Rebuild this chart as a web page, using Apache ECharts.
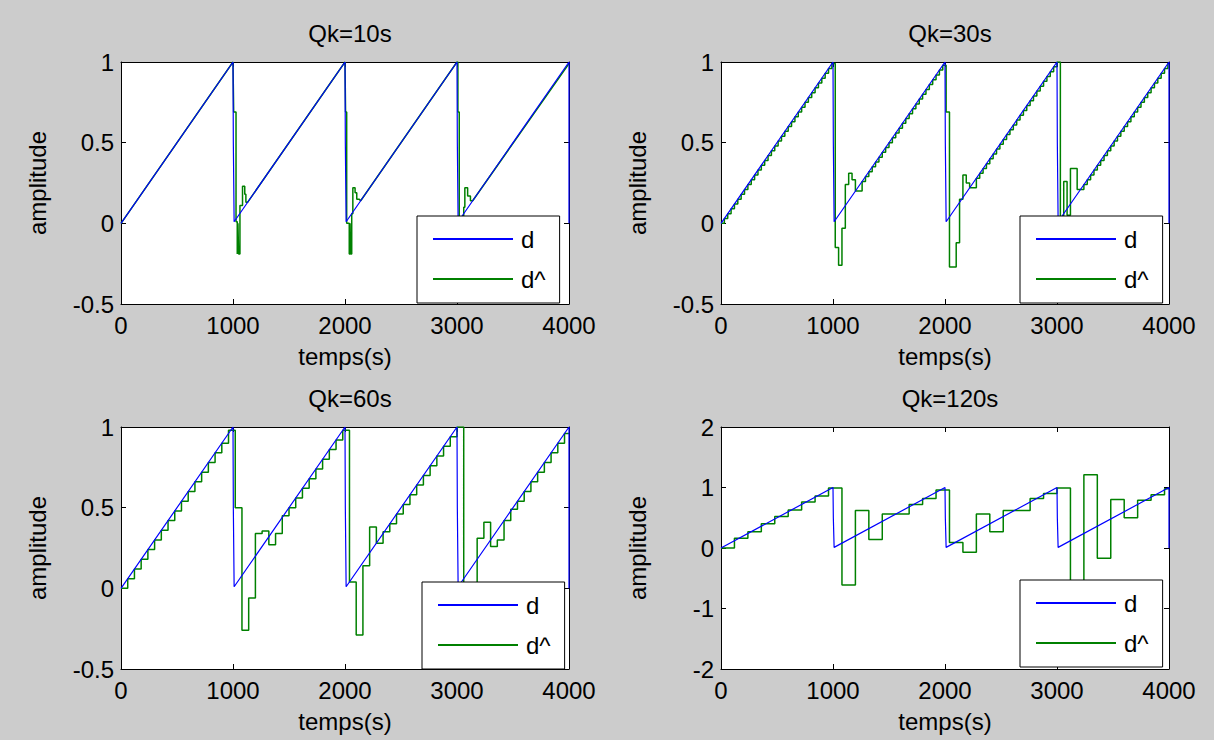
<!DOCTYPE html>
<html><head><meta charset="utf-8">
<script src="https://cdn.jsdelivr.net/npm/echarts@6/dist/echarts.min.js"></script>
<style>html,body{margin:0;padding:0;background:#cccccc;}#c{width:1214px;height:740px;}</style>
</head><body><div id="c"></div>
<script>
// ---- data ----
const titles = ['Qk=10s', 'Qk=30s', 'Qk=60s', 'Qk=120s'];
const seriesNames = ['d', 'd^'];
const xTicks = [0, 1000, 2000, 3000, 4000];
const yMin = [-0.5, -0.5, -0.5, -2];
const yMax = [1, 1, 1, 2];
const yInterval = [0.5, 0.5, 0.5, 1];

// true signal d (vertices of the sawtooth)
const dTime  = [0, 1000, 1003, 1010, 2000, 2003, 2010, 3000, 3003, 3010, 4000, 4000];
const dValue = [0, 1.0, 0.5, 0.01, 1.0, 0.5, 0.01, 1.0, 0.5, 0.01, 1.0, 0];

// estimate, Qk=10s (vertices)
const q10Time = [0, 1000, 1006, 1006, 1027, 1027, 1038, 1038, 1044, 1044, 1050, 1050, 1062, 1062, 1085, 1085, 1105, 1105, 1115, 1115, 1130,
  2000, 2005, 2005, 2015, 2015, 2038, 2038, 2045, 2045, 2050, 2050, 2060, 2060, 2070, 2070, 2090, 2090, 2105, 2105, 2125, 2140,
  3000, 3008, 3008, 3020, 3020, 3035, 3035, 3060, 3060, 3070, 3070, 3095, 3095, 3120, 3120, 3140, 4000];
const q10Value = [0, 1.0, 1.0, 0.69, 0.69, 0.01, 0.01, -0.19, -0.19, 0.0, 0.0, -0.19, -0.19, 0.11, 0.11, 0.23, 0.23, 0.18, 0.18, 0.13, 0.13,
  1.0, 1.0, 0.69, 0.69, 0.0, 0.0, -0.19, -0.19, 0.0, 0.0, -0.19, -0.19, 0.06, 0.06, 0.22, 0.22, 0.19, 0.19, 0.15, 0.15, 0.14,
  1.0, 1.0, 0.69, 0.69, 0.01, 0.01, -0.19, -0.19, 0.10, 0.10, 0.22, 0.22, 0.17, 0.17, 0.14, 0.14, 0.99];

// estimate, Qk=30s (held values, one every 30 s)
const q30Step = 30;
const q30Value = [
  0, 0.03, 0.06, 0.09, 0.12, 0.15, 0.18, 0.21, 0.24, 0.27,
  0.30, 0.33, 0.36, 0.39, 0.42, 0.45, 0.48, 0.51, 0.54, 0.57,
  0.60, 0.63, 0.66, 0.69, 0.72, 0.75, 0.78, 0.81, 0.84, 0.87,
  0.90, 0.93, 0.96, 0.99,
  -0.15, -0.26, -0.03, 0.24, 0.31, 0.27, 0.20, 0.20, 0.26, 0.29,
  0.32, 0.35, 0.38, 0.41, 0.44, 0.47, 0.50, 0.53, 0.56, 0.59,
  0.62, 0.65, 0.68, 0.71, 0.74, 0.77, 0.80, 0.83, 0.86, 0.89,
  0.92, 0.95, 0.98,
  0.69, -0.27, -0.27, -0.12, 0.15, 0.30, 0.25, 0.22, 0.22, 0.28,
  0.31, 0.34, 0.37, 0.40, 0.43, 0.46, 0.49, 0.52, 0.55, 0.58,
  0.61, 0.64, 0.67, 0.70, 0.73, 0.76, 0.79, 0.82, 0.85, 0.88,
  0.91, 0.94, 0.97, 1.0,
  -0.20, 0.26, 0.05, 0.34, 0.34, 0.21, 0.21, 0.24, 0.27, 0.30,
  0.33, 0.36, 0.39, 0.42, 0.45, 0.48, 0.51, 0.54, 0.57, 0.60,
  0.63, 0.66, 0.69, 0.72, 0.75, 0.78, 0.81, 0.84, 0.87, 0.90,
  0.93, 0.96, 0.99];

// estimate, Qk=60s (held values, one every 60 s)
const q60Step = 60;
const q60Value = [
  0, 0.06, 0.12, 0.18, 0.24, 0.30, 0.36, 0.42, 0.48, 0.54, 0.60, 0.66, 0.72, 0.78, 0.84, 0.90, 0.98,
  0.50, -0.26, -0.06, 0.34, 0.355, 0.27, 0.34, 0.45, 0.50, 0.56, 0.62, 0.68, 0.74, 0.80, 0.86, 0.92, 0.98,
  0.04, -0.29, 0.14, 0.38, 0.28, 0.35, 0.40, 0.46, 0.52, 0.58, 0.64, 0.70, 0.76, 0.82, 0.88, 0.94, 1.0,
  -0.20, -0.10, 0.31, 0.41, 0.26, 0.30, 0.42, 0.49, 0.54, 0.60, 0.66, 0.72, 0.78, 0.84, 0.90, 0.96];

// estimate, Qk=120s (held values, one every 120 s)
const q120Step = 120;
const q120Value = [
  0.0, 0.16, 0.27, 0.40, 0.52, 0.63, 0.76, 0.86, 0.99,
  -0.61, 0.62, 0.14, 0.56, 0.56, 0.72, 0.82, 0.96,
  0.09, -0.07, 0.56, 0.27, 0.62, 0.62, 0.82, 0.90,
  0.99, -1.0, 1.21, -0.17, 0.80, 0.50, 0.79, 0.88, 0.98];

// ---- build ----
const FONT = 'Liberation Sans, Arial, sans-serif';
const pairs = (ts, vs) => ts.map((t, i) => [t, vs[i]]);
const held = (step, vs) => {
  const p = vs.map((v, k) => [k * step, v]);
  p.push([xTicks[xTicks.length - 1], vs[vs.length - 1]]);
  return p;
};
const dData = pairs(dTime, dValue);
const estData = [pairs(q10Time, q10Value), held(q30Step, q30Value), held(q60Step, q60Value), held(q120Step, q120Value)];
const estStep = [false, 'end', 'end', 'end'];

const grids = [
  {left: 121, top: 62, width: 448, height: 242},
  {left: 721, top: 62, width: 448, height: 242},
  {left: 121, top: 427, width: 448, height: 242},
  {left: 721, top: 427, width: 448, height: 242}
];
const legendPos = [[417, 216], [1020, 216], [422, 582], [1020, 580]];

const txt = {color: '#000', fontSize: 24, fontFamily: FONT};
const plain = v => String(v);
const option = {
  backgroundColor: '#cccccc',
  animation: false,
  title: [], grid: [], xAxis: [], yAxis: [], legend: [], series: []
};
grids.forEach((g, i) => {
  option.grid.push(Object.assign({show: true, backgroundColor: '#fff', borderWidth: 0}, g));
  option.title.push({
    text: titles[i], left: g.left + g.width / 2, top: g.top - 46, textAlign: 'center',
    textStyle: Object.assign({fontWeight: 'normal'}, txt)
  });
  const axCommon = {
    type: 'value', gridIndex: i,
    axisLine: {show: true, onZero: false, lineStyle: {color: '#000', width: 1}},
    axisTick: {show: true, inside: true, length: 5, lineStyle: {color: '#000', width: 1}},
    splitLine: {show: false}
  };
  const xMin = xTicks[0], xMax = xTicks[xTicks.length - 1], xInt = xTicks[1] - xTicks[0];
  option.xAxis.push(Object.assign({}, axCommon, {
    position: 'bottom', min: xMin, max: xMax, interval: xInt,
    axisLabel: Object.assign({margin: 9, formatter: plain}, txt),
    name: 'temps(s)', nameLocation: 'middle', nameGap: 40, nameTextStyle: txt
  }));
  option.xAxis.push(Object.assign({}, axCommon, {
    position: 'top', min: xMin, max: xMax, interval: xInt, axisLabel: {show: false}
  }));
  option.yAxis.push(Object.assign({}, axCommon, {
    position: 'left', min: yMin[i], max: yMax[i], interval: yInterval[i],
    axisLabel: Object.assign({margin: 7, formatter: plain}, txt),
    name: 'amplitude', nameLocation: 'middle', nameGap: 72, nameTextStyle: txt
  }));
  option.yAxis.push(Object.assign({}, axCommon, {
    position: 'right', min: yMin[i], max: yMax[i], interval: yInterval[i], axisLabel: {show: false}
  }));
  option.series.push({
    name: seriesNames[1], type: 'line', xAxisIndex: 2 * i, yAxisIndex: 2 * i,
    data: estData[i], step: estStep[i], showSymbol: false, symbol: 'none', z: 2,
    lineStyle: {color: '#008000', width: 1.5}, itemStyle: {color: '#008000'}
  });
  option.series.push({
    name: seriesNames[0], type: 'line', xAxisIndex: 2 * i, yAxisIndex: 2 * i,
    data: dData, showSymbol: false, symbol: 'none', z: 3,
    lineStyle: {color: '#0000ff', width: 1.2}, itemStyle: {color: '#0000ff'}
  });
  option.legend.push({
    data: seriesNames, orient: 'vertical', left: legendPos[i][0], top: legendPos[i][1],
    backgroundColor: '#fff', borderColor: '#000', borderWidth: 1, borderRadius: 0,
    padding: [11, 14, 12, 16], itemGap: 16, itemWidth: 80, itemHeight: 2, icon: 'rect',
    selectedMode: false,
    textStyle: Object.assign({lineHeight: 23, padding: [0, 0, 0, 3]}, txt)
  });
});
const chart = echarts.init(document.getElementById('c'), null, {renderer: 'svg'});
chart.setOption(option);
</script></body></html>
